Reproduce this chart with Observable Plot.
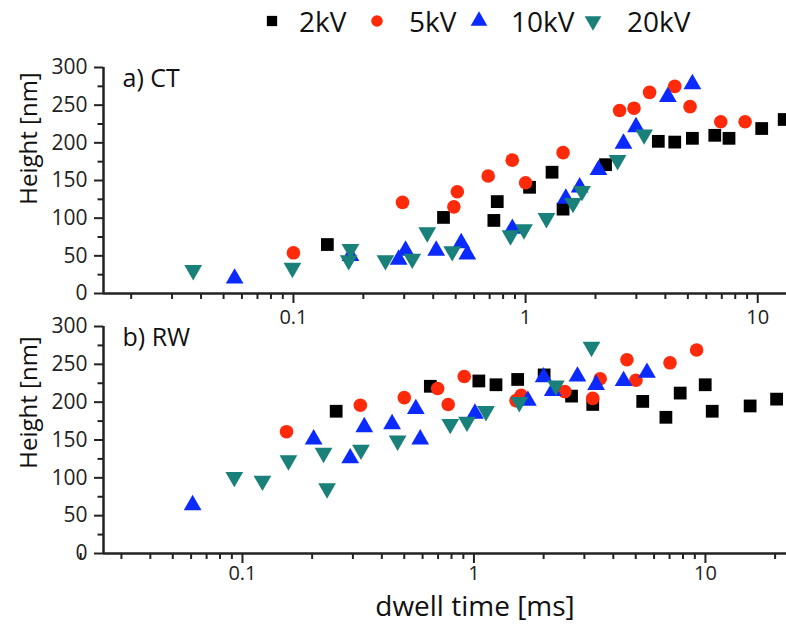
<!DOCTYPE html>
<html><head><meta charset="utf-8">
<script src="https://cdn.jsdelivr.net/npm/d3@7"></script>
<script src="https://cdn.jsdelivr.net/npm/@observablehq/plot@0.6"></script>
<style>
body{margin:0;background:#fff;}
#wrap{position:relative;width:786px;height:625px;overflow:hidden;font-family:"Open Sans",sans-serif;color:#111;}
#wrap > svg{position:absolute;left:0;}
#legend{position:absolute;left:0;top:0;width:786px;height:44px;}
.li{position:absolute;top:2px;font-size:28px;line-height:38px;}
.ls{position:absolute;}
</style></head><body><div id="wrap"><div id="legend"></div></div>
<script>
// ---- data: [dwell time (ms), height (nm)] ----
const ct2kV = [[0.140,65],[0.443,101],[0.730,97],[0.755,122],[1.04,141],[1.30,161],[1.45,112],[2.21,171],[3.73,202],[4.39,201],[5.23,206],[6.53,210],[7.52,206],[10.4,219],[13.0,231]];
const ct5kV = [[0.100,54],[0.295,121],[0.491,115],[0.508,135],[0.690,156],[0.876,177],[1.00,147],[1.45,187],[2.54,243],[2.93,246],[3.42,267],[4.39,275],[5.11,248],[6.93,228],[8.82,228]];
const ct10kV = [[0.0558,20],[0.176,50],[0.284,45],[0.304,57],[0.412,57],[0.528,67],[0.561,52],[0.877,86],[1.49,126],[1.71,141],[2.06,164],[2.64,199],[2.99,221],[4.10,261],[5.23,278]];
const ct20kV = [[0.0370,31],[0.0990,34],[0.173,44],[0.176,59],[0.249,44],[0.325,46],[0.377,81],[0.483,56],[0.861,77],[0.984,85],[1.23,100],[1.60,120],[1.75,136],[2.49,177],[3.24,211]];

const rw2kV = [[0.254,188],[0.648,221],[1.05,228],[1.245,223],[1.545,230],[2.01,236],[2.64,208],[3.26,197],[5.36,201],[6.75,180],[7.78,212],[9.98,223],[10.7,188],[15.6,195],[20.3,204]];
const rw5kV = [[0.155,161],[0.323,196],[0.500,206],[0.697,218],[0.774,197],[0.908,234],[1.52,202],[1.60,209],[2.47,214],[3.26,205],[3.51,231],[4.58,256],[5.01,229],[7.03,252],[9.16,269]];
const rw10kV = [[0.0609,64],[0.203,151],[0.292,126],[0.336,167],[0.443,171],[0.561,191],[0.586,151],[1.01,185],[1.71,202],[2.00,233],[2.19,215],[2.80,234],[3.37,223],[4.43,228],[5.59,239]];
const rw20kV = [[0.0922,101],[0.122,96],[0.158,123],[0.224,133],[0.232,86],[0.325,137],[0.468,149],[0.790,171],[0.933,174],[1.127,188],[1.57,200],[2.26,222],[3.22,273]];

const seriesNames = ["2kV","5kV","10kV","20kV"];
const seriesColors = ["#000000","#ff2a0a","#0a2aff","#1a807a"];
const seriesSymbols = ["square","circle","triangle","triangle"];
const seriesRotate = [0,0,0,180];
const seriesR = [7.2,6.8,6.6,6.6];

const yMajor = [0,50,100,150,200,250,300];
const yMinor = [25,75,125,175,225,275];
const xMajor = [0.1,1,10];
const xMinor = [0.02,0.03,0.04,0.05,0.06,0.07,0.08,0.09,0.2,0.3,0.4,0.5,0.6,0.7,0.8,0.9,2,3,4,5,6,7,8,9,20];

const W = 786;
const FONT = "Open Sans";
const AX = "#222";

// svgTop/svgH: placement of the svg; frameTop/frameBottom: frame edges in page pixels
function panel({svgTop, svgH, frameTop, frameBottom, xdomain, series, tag, ylabDy, xlabel, xPad}) {
  const marks = [
    Plot.axisY({ticks: yMajor, tickSize: 9, tickPadding: 7, label: null, fontSize: 21, strokeWidth: 2, stroke: AX, fill: AX}),
    Plot.axisY({ticks: yMinor, tickSize: 5.5, text: null, label: null, strokeWidth: 2, stroke: AX}),
    Plot.axisX({ticks: xMajor, tickSize: 10, tickPadding: xPad, tickFormat: d => String(d), label: null, fontSize: 20, strokeWidth: 2, stroke: AX, fill: AX}),
    Plot.axisX({ticks: xMinor, tickSize: 6, text: null, label: null, strokeWidth: 2, stroke: AX}),
    Plot.ruleX([xdomain[0]], {stroke: AX, strokeWidth: 2.5}),
    Plot.ruleY([0], {stroke: AX, strokeWidth: 2.5}),
  ];
  series.forEach((s, i) => {
    marks.push(Plot.dot(s, {x: d => d[0], y: d => d[1], symbol: seriesSymbols[i], r: seriesR[i],
      rotate: seriesRotate[i], fill: seriesColors[i], stroke: "none"}));
  });
  marks.push(Plot.text([tag], {frameAnchor: "top-left", dx: 19, dy: 11, lineAnchor: "middle", textAnchor: "start", fontSize: 25, fill: "#111"}));
  marks.push(Plot.text(["Height [nm]"], {frameAnchor: "top-left", dx: -74, dy: ylabDy, rotate: -90, textAnchor: "middle", lineAnchor: "middle", fontSize: 24, fill: "#111"}));
  if (xlabel) marks.push(Plot.text([xlabel], {frameAnchor: "bottom", dx: 30, dy: 54, textAnchor: "middle", lineAnchor: "middle", fontSize: 28, fill: "#111"}));
  const svg = Plot.plot({
    width: W, height: svgH,
    marginLeft: 103, marginRight: 0, marginTop: frameTop - svgTop, marginBottom: svgTop + svgH - frameBottom,
    style: {background: "transparent", fontFamily: FONT, color: "#111", overflow: "visible"},
    x: {type: "log", domain: xdomain},
    y: {domain: [0, 300]},
    marks
  });
  svg.style.top = svgTop + "px";
  return svg;
}

const wrap = document.getElementById("wrap");
wrap.appendChild(panel({svgTop: 0, svgH: 300, frameTop: 67, frameBottom: 293, xdomain: [0.0152, 13.3], series: [ct2kV, ct5kV, ct10kV, ct20kV], tag: "a) CT", ylabDy: 71, xPad: 6}));
wrap.appendChild(panel({svgTop: 300, svgH: 325, frameTop: 326, frameBottom: 553, xdomain: [0.0251, 22.4], series: [rw2kV, rw5kV, rw10kV, rw20kV], tag: "b) RW", ylabDy: 76, xlabel: "dwell time [ms]", xPad: 2}));

// legend
const legend = document.getElementById("legend");
const legSym = [272, 377, 479, 593];
const legTxt = [299, 409, 511, 627];
const legR = [5.8, 5.8, 6.2, 6.2];
seriesNames.forEach((name, i) => {
  const size = 26;
  const svg = d3.create("svg").attr("class","ls").attr("width", size).attr("height", size)
    .style("left", (legSym[i] - size/2) + "px").style("top", (21 - size/2) + "px");
  const symType = {square: d3.symbolSquare, circle: d3.symbolCircle, triangle: d3.symbolTriangle}[seriesSymbols[i]];
  svg.append("path").attr("d", d3.symbol(symType, Math.PI * legR[i] * legR[i])())
    .attr("transform", `translate(${size/2},${size/2}) rotate(${seriesRotate[i]})`)
    .attr("fill", seriesColors[i]);
  legend.appendChild(svg.node());
  const t = document.createElement("div");
  t.className = "li"; t.textContent = name; t.style.left = legTxt[i] + "px";
  legend.appendChild(t);
});
</script>
</body></html>
